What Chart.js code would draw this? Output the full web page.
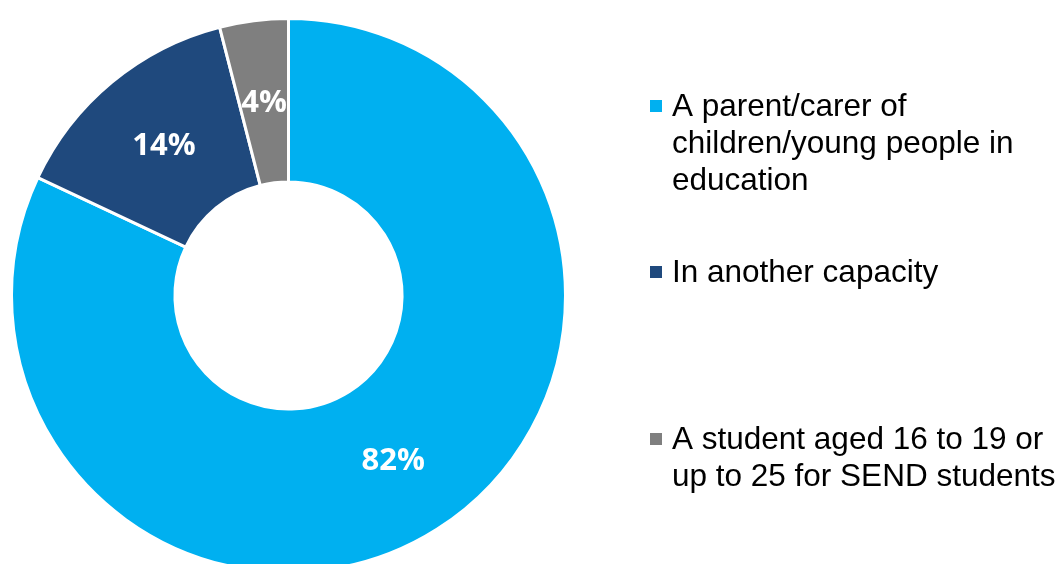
<!DOCTYPE html>
<html>
<head>
<meta charset="utf-8">
<script src="https://cdn.jsdelivr.net/npm/chart.js@4.4.1/dist/chart.umd.min.js"></script>
<style>
    html, body { margin: 0; padding: 0; background: #fff; overflow: hidden; }
    #wrap { position: relative; width: 1062px; height: 564px; overflow: hidden; }
    #wrap canvas { position: absolute; left: 0; top: 0; }
</style>
</head>
<body>
<div id="wrap"><canvas id="donut_chart" width="1062" height="600"></canvas></div>
<script>
// Chart data
const categories = [
    ['A parent/carer of', 'children/young people in', 'education'],
    ['In another capacity'],
    ['A student aged 16 to 19 or', 'up to 25 for SEND students']
];
const shares = [82, 14, 4];
const sliceColors = ['#00B0F0', '#1F497D', '#7F7F7F'];

// Legend baselines for the first line of each entry
const legendBaselines = [116, 282, 449];

// Draws percentage labels in the middle of each slice
const sliceLabels = {
    id: 'sliceLabels',
    afterDatasetsDraw(chart) {
        const ctx = chart.ctx;
        const meta = chart.getDatasetMeta(0);
        ctx.save();
        ctx.fillStyle = '#ffffff';
        ctx.font = 'bold 31px "Open Sans"';
        ctx.textAlign = 'center';
        ctx.textBaseline = 'middle';
        meta.data.forEach((arc, i) => {
            const pos = arc.tooltipPosition();
            ctx.fillText(chart.data.datasets[0].data[i] + '%', pos.x, pos.y + 1);
        });
        ctx.restore();
    }
};

// Draws the legend on the right with multi-line labels
const sideLegend = {
    id: 'sideLegend',
    afterDraw(chart) {
        const ctx = chart.ctx;
        const colors = chart.data.datasets[0].backgroundColor;
        ctx.save();
        ctx.font = '31.5px "Liberation Sans"';
        ctx.textBaseline = 'alphabetic';
        ctx.textAlign = 'left';
        chart.data.labels.forEach((lines, i) => {
            const base = legendBaselines[i];
            ctx.fillStyle = colors[i];
            ctx.fillRect(650, base - 16, 12, 12);
            ctx.fillStyle = '#000000';
            lines.forEach((line, j) => {
                ctx.fillText(line, 672, base + j * 37);
            });
        });
        ctx.restore();
    }
};

const donut_chart = document.getElementById('donut_chart');
new Chart(donut_chart, {
    type: 'doughnut',
    data: {
        labels: categories,
        datasets: [{
            data: shares,
            backgroundColor: sliceColors,
            borderColor: '#ffffff',
            borderWidth: 3,
            hoverOffset: 0
        }]
    },
    options: {
        responsive: false,
        animation: false,
        cutout: '41%',
        layout: {
            padding: { left: 10, top: 17, right: 495, bottom: 26 }
        },
        plugins: {
            legend: { display: false },
            tooltip: { enabled: false }
        }
    },
    plugins: [sliceLabels, sideLegend]
});
</script>
</body>
</html>
